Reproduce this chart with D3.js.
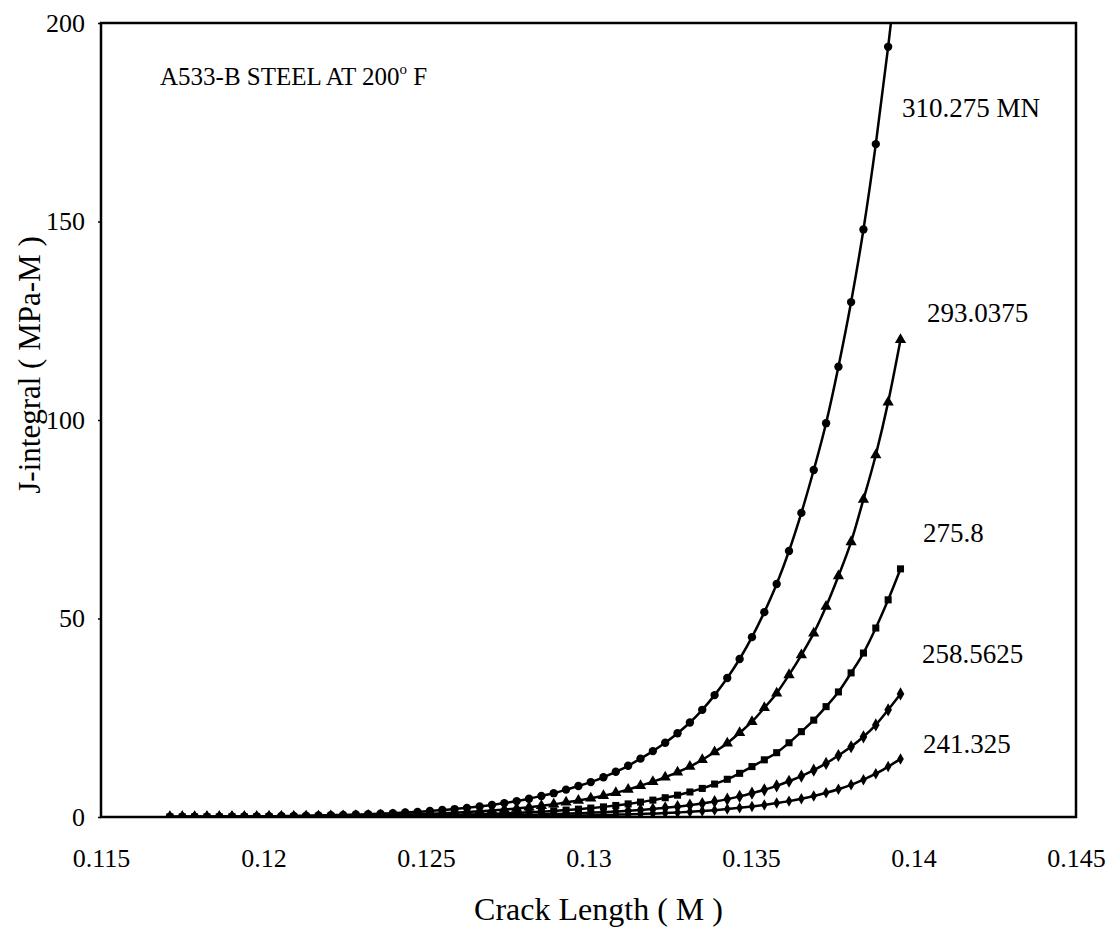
<!DOCTYPE html>
<html>
<head>
<meta charset="utf-8">
<script src="https://cdn.jsdelivr.net/npm/d3@7"></script>
<style>
  body { margin: 0; background: #fff; }
  text { font-family: "Liberation Serif", "Times New Roman", serif; fill: #000; }
</style>
</head>
<body>
<div id="chart"></div>
<script>
// crack length (M), shared by all five load cases
var crack = [0.11712, 0.11750, 0.11788, 0.11826, 0.11864, 0.11903, 0.11941, 0.11979, 0.12017, 0.12055,
  0.12093, 0.12131, 0.12169, 0.12207, 0.12245, 0.12284, 0.12322, 0.12360, 0.12398, 0.12436,
  0.12474, 0.12512, 0.12550, 0.12588, 0.12626, 0.12665, 0.12703, 0.12741, 0.12779, 0.12817,
  0.12855, 0.12893, 0.12931, 0.12969, 0.13007, 0.13046, 0.13084, 0.13122, 0.13160, 0.13198,
  0.13236, 0.13274, 0.13312, 0.13350, 0.13388, 0.13427, 0.13465, 0.13503, 0.13541, 0.13579,
  0.13617, 0.13655, 0.13693, 0.13731, 0.13769, 0.13808, 0.13846, 0.13884, 0.13922, 0.13960];

// J-integral (MPa-M) for each load
var j310 = [0.05, 0.06, 0.07, 0.08, 0.10, 0.12, 0.14, 0.17, 0.20, 0.24,
  0.28, 0.33, 0.39, 0.46, 0.53, 0.62, 0.72, 0.84, 0.97, 1.12,
  1.30, 1.50, 1.75, 2.0, 2.3, 2.65, 3.05, 3.5, 4.0, 4.6,
  5.3, 6.0, 6.9, 7.8, 8.8, 10.0, 11.4, 12.9, 14.7, 16.6,
  18.7, 21.1, 23.8, 27.0, 30.7, 35.0, 39.8, 45.3, 51.6, 58.7,
  67.0, 76.6, 87.4, 99.2, 113.4, 129.7, 148.0, 169.5, 194.0, 221.0];
var j293 = [0.027, 0.032, 0.037, 0.043, 0.053, 0.064, 0.075, 0.09, 0.11, 0.13,
  0.15, 0.18, 0.21, 0.25, 0.28, 0.33, 0.39, 0.45, 0.52, 0.60,
  0.70, 0.80, 0.94, 1.07, 1.23, 1.42, 1.63, 1.87, 2.14, 2.46,
  2.83, 3.2, 3.7, 4.17, 4.7, 5.35, 6.1, 6.9, 7.9, 8.9,
  10.0, 11.3, 12.7, 14.4, 16.4, 18.6, 21.2, 24.0, 27.5, 31.2,
  35.8, 40.8, 46.3, 53.0, 60.7, 69.3, 80.0, 91.2, 104.5, 120.2];
var j276 = [0.014, 0.016, 0.019, 0.023, 0.027, 0.032, 0.038, 0.045, 0.053, 0.062,
  0.073, 0.085, 0.10, 0.12, 0.14, 0.16, 0.19, 0.22, 0.26, 0.30,
  0.35, 0.40, 0.46, 0.53, 0.61, 0.70, 0.80, 0.91, 1.04, 1.18,
  1.35, 1.53, 1.74, 1.98, 2.25, 2.55, 2.9, 3.3, 3.75, 4.25,
  4.85, 5.5, 6.3, 7.2, 8.3, 9.5, 11.0, 12.7, 14.4, 16.2,
  18.7, 21.5, 24.4, 27.8, 31.5, 36.3, 41.3, 47.6, 54.7, 62.5];
var j259 = [0.007, 0.008, 0.009, 0.011, 0.013, 0.015, 0.018, 0.021, 0.025, 0.030,
  0.035, 0.040, 0.048, 0.057, 0.067, 0.076, 0.09, 0.105, 0.12, 0.14,
  0.17, 0.19, 0.22, 0.25, 0.29, 0.33, 0.38, 0.43, 0.50, 0.56,
  0.64, 0.73, 0.83, 0.94, 1.07, 1.21, 1.38, 1.57, 1.79, 2.02,
  2.31, 2.62, 3.0, 3.4, 3.9, 4.5, 5.2, 6.0, 6.85, 7.85,
  9.0, 10.3, 11.8, 13.5, 15.5, 17.7, 20.2, 23.2, 27.0, 31.0];
var j241 = [0.0035, 0.004, 0.0045, 0.005, 0.006, 0.007, 0.008, 0.0095, 0.011, 0.013,
  0.015, 0.017, 0.020, 0.023, 0.027, 0.031, 0.036, 0.041, 0.048, 0.055,
  0.063, 0.072, 0.083, 0.095, 0.11, 0.125, 0.145, 0.165, 0.19, 0.22,
  0.25, 0.29, 0.33, 0.38, 0.43, 0.50, 0.57, 0.65, 0.75, 0.86,
  0.98, 1.13, 1.3, 1.5, 1.73, 2.0, 2.3, 2.65, 3.05, 3.5,
  4.0, 4.6, 5.3, 6.1, 7.0, 8.1, 9.4, 10.9, 12.7, 14.6];

var loads = ["310.275 MN", "293.0375", "275.8", "258.5625", "241.325"];
var xTicks = [0.115, 0.12, 0.125, 0.13, 0.135, 0.14, 0.145];
var yTicks = [0, 50, 100, 150, 200];

var series = [
  { name: loads[0], values: j310, shape: d3.symbolCircle, size: 55, lx: 902, ly: 117 },
  { name: loads[1], values: j293, shape: d3.symbolTriangle, size: 55, lx: 927, ly: 322 },
  { name: loads[2], values: j276, shape: d3.symbolSquare, size: 50, lx: 923, ly: 542 },
  { name: loads[3], values: j259, shape: d3.symbolDiamond, size: 50, lx: 922, ly: 663 },
  { name: loads[4], values: j241, shape: d3.symbolDiamond, size: 38, lx: 923, ly: 753 }
];

var width = 1110, height = 944;
var plotL = 101, plotR = 1076, plotT = 23, plotB = 817;

var svg = d3.select("#chart").append("svg")
  .attr("width", width)
  .attr("height", height);

var x = d3.scaleLinear().domain([0.115, 0.145]).range([plotL, plotR]);
var y = d3.scaleLinear().domain([0, 200]).range([plotB, plotT]);

svg.append("defs").append("clipPath").attr("id", "plot")
  .append("rect")
  .attr("x", plotL).attr("y", plotT)
  .attr("width", plotR - plotL).attr("height", plotB - plotT);

// axes
var xAxis = d3.axisBottom(x).tickValues(xTicks).tickFormat(d3.format("~g"))
  .tickSize(0).tickPadding(32);
var yAxis = d3.axisLeft(y).tickValues(yTicks).tickFormat(d3.format("d"))
  .tickSizeInner(3).tickSizeOuter(0).tickPadding(13);

svg.append("g")
  .attr("transform", "translate(0," + plotB + ")")
  .call(xAxis)
  .call(g => g.select(".domain").remove())
  .selectAll("text")
  .attr("font-size", 26)
  .style("font-family", "'Liberation Serif', serif");

svg.append("g")
  .attr("transform", "translate(" + plotL + ",0)")
  .call(yAxis)
  .call(g => g.select(".domain").remove())
  .call(g => g.selectAll("line").attr("stroke", "#000").attr("stroke-width", 1.5))
  .selectAll("text")
  .attr("font-size", 26)
  .style("font-family", "'Liberation Serif', serif");

// plot frame
svg.append("rect")
  .attr("x", plotL).attr("y", plotT)
  .attr("width", plotR - plotL).attr("height", plotB - plotT)
  .attr("fill", "none")
  .attr("stroke", "#000")
  .attr("stroke-width", 2.5);

var line = d3.line()
  .x((d, i) => x(crack[i]))
  .y(d => y(d))
  .curve(d3.curveMonotoneX);

var plot = svg.append("g").attr("clip-path", "url(#plot)");

series.forEach(function (s) {
  plot.append("path")
    .datum(s.values)
    .attr("fill", "none")
    .attr("stroke", "#000")
    .attr("stroke-width", 2.5)
    .attr("d", line);

  plot.selectAll(null)
    .data(s.values)
    .enter()
    .append("path")
    .attr("d", d3.symbol().type(s.shape).size(s.size))
    .attr("transform", (d, i) => "translate(" + x(crack[i]) + "," + y(d) + ")")
    .attr("fill", "#000");

  svg.append("text")
    .attr("x", s.lx)
    .attr("y", s.ly)
    .attr("font-size", 27)
    .text(s.name);
});

// annotation
var note = svg.append("text")
  .attr("x", 160)
  .attr("y", 85)
  .attr("font-size", 25)
  .text("A533-B STEEL AT 200");
note.append("tspan")
  .attr("font-size", 15)
  .attr("dy", -11)
  .text("o");
note.append("tspan")
  .attr("dy", 11)
  .text(" F");

// axis titles
svg.append("text")
  .attr("x", (plotL + plotR) / 2 + 10)
  .attr("y", 920)
  .attr("text-anchor", "middle")
  .attr("font-size", 32)
  .text("Crack Length ( M )");

svg.append("text")
  .attr("transform", "translate(40," + 365 + ") rotate(-90)")
  .attr("text-anchor", "middle")
  .attr("font-size", 31)
  .text("J-integral ( MPa-M )");
</script>
</body>
</html>
